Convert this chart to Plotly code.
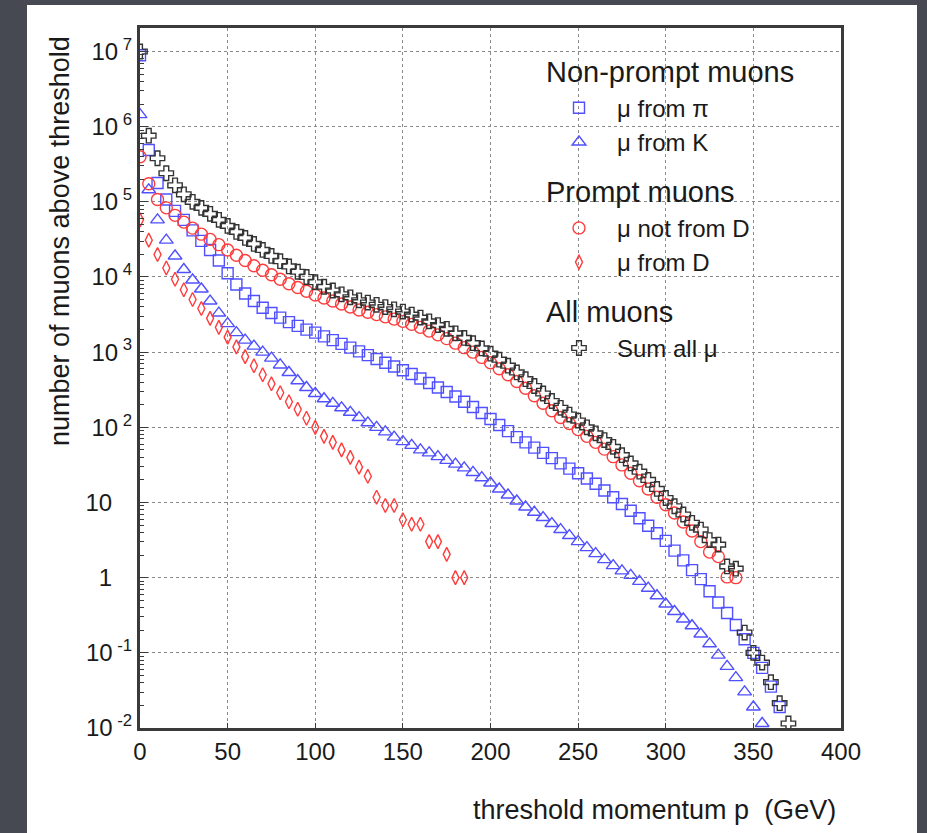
import plotly.graph_objects as go

# ---------------- data (log10 of counts) ----------------
x_pi = list(range(0, 370, 5))
log10_pi = [6.95, 5.69, 5.25, 5.03, 4.88, 4.76, 4.62, 4.48, 4.36, 4.22,
            4.05, 3.90, 3.78, 3.68, 3.59, 3.52, 3.46, 3.40, 3.35, 3.30,
            3.26, 3.21, 3.16, 3.11, 3.06, 3.01, 2.96, 2.91, 2.86, 2.81,
            2.76, 2.71, 2.65, 2.59, 2.53, 2.47, 2.41, 2.34, 2.27, 2.19,
            2.11, 2.03, 1.95, 1.87, 1.80, 1.73, 1.66, 1.59, 1.52, 1.45,
            1.39, 1.32, 1.25, 1.16, 1.07, 0.98, 0.89, 0.79, 0.69, 0.59,
            0.49, 0.36, 0.23, 0.10, -0.02, -0.18, -0.33, -0.47, -0.63, -0.82,
            -1.00, -1.20, -1.45, -1.72]

x_K = list(range(0, 360, 5))
log10_K = [6.16, 5.16, 4.76, 4.49, 4.28, 4.10, 3.96, 3.84, 3.68, 3.52,
           3.38, 3.26, 3.16, 3.08, 3.00, 2.92, 2.83, 2.73, 2.62, 2.53,
           2.45, 2.38, 2.32, 2.26, 2.20, 2.13, 2.06, 2.00, 1.94, 1.87,
           1.81, 1.76, 1.70, 1.66, 1.61, 1.56, 1.51, 1.46, 1.40, 1.33,
           1.26, 1.18, 1.10, 1.02, 0.94, 0.87, 0.80, 0.72, 0.64, 0.56,
           0.48, 0.40, 0.32, 0.24, 0.16, 0.09, 0.03, -0.05, -0.14, -0.24,
           -0.35, -0.45, -0.55, -0.64, -0.75, -0.88, -1.03, -1.18, -1.33, -1.52,
           -1.72, -1.94]

x_notD = list(range(0, 345, 5))
log10_notD = [5.60, 5.24, 5.03, 4.92, 4.82, 4.73, 4.65, 4.57, 4.50, 4.43,
              4.36, 4.29, 4.22, 4.15, 4.09, 4.03, 3.97, 3.91, 3.86, 3.81,
              3.76, 3.72, 3.68, 3.64, 3.60, 3.56, 3.53, 3.50, 3.47, 3.44,
              3.41, 3.37, 3.33, 3.28, 3.23, 3.18, 3.12, 3.06, 3.00, 2.93,
              2.86, 2.78, 2.70, 2.61, 2.52, 2.42, 2.32, 2.22, 2.13, 2.05,
              1.97, 1.88, 1.80, 1.71, 1.61, 1.50, 1.39, 1.29, 1.18, 1.07,
              0.97, 0.86, 0.74, 0.62, 0.48, 0.34, 0.28, 0.01, 0.00]

x_D = list(range(0, 190, 5))
log10_D = [4.76, 4.49, 4.30, 4.12, 3.97, 3.83, 3.70, 3.58, 3.45, 3.33,
           3.20, 3.07, 2.94, 2.82, 2.70, 2.58, 2.46, 2.34, 2.24, 2.12,
           2.00, 1.88, 1.80, 1.70, 1.60, 1.47, 1.35, 1.07, 0.96, 0.96,
           0.77, 0.71, 0.71, 0.48, 0.48, 0.31, 0.00, 0.00]

x_sum = list(range(0, 375, 5))
log10_sum = [7.00, 5.88, 5.58, 5.38, 5.22, 5.10, 5.00, 4.92, 4.84, 4.76,
             4.68, 4.60, 4.52, 4.44, 4.36, 4.28, 4.21, 4.14, 4.07, 4.00,
             3.93, 3.87, 3.82, 3.77, 3.73, 3.69, 3.66, 3.63, 3.60, 3.57,
             3.54, 3.50, 3.46, 3.41, 3.36, 3.31, 3.25, 3.19, 3.12, 3.05,
             2.98, 2.90, 2.82, 2.73, 2.64, 2.55, 2.45, 2.35, 2.26, 2.17,
             2.09, 2.00, 1.92, 1.83, 1.74, 1.63, 1.52, 1.41, 1.30, 1.18,
             1.06, 0.95, 0.84, 0.73, 0.64, 0.50, 0.44, 0.15, 0.12, -0.73,
             -1.00, -1.13, -1.39, -1.67, -1.94]

y_exponents = [-2, -1, 0, 1, 2, 3, 4, 5, 6, 7]
x_ticks = [0, 50, 100, 150, 200, 250, 300, 350, 400]

# ---------------- styling ----------------
FONT = "Liberation Sans, Arial, Helvetica, sans-serif"
BLUE = "#5050ff"
RED = "#ff3c3c"
BLACK = "#333333"

def counts(logs):
    return [10 ** v for v in logs]

series = [
    dict(x=x_K, y=log10_K, name="μ from K", symbol="triangle-up-open", color=BLUE, size=12,
         group="np", title="Non-prompt muons", rank=2),
    dict(x=x_pi, y=log10_pi, name="μ from π", symbol="square-open", color=BLUE, size=11,
         group="np", title="Non-prompt muons", rank=1),
    dict(x=x_D, y=log10_D, name="μ from D", symbol="diamond-tall-open", color=RED, size=10,
         group="p", title="Prompt muons", rank=4),
    dict(x=x_notD, y=log10_notD, name="μ not from D", symbol="circle-open", color=RED, size=12,
         group="p", title="Prompt muons", rank=3),
    dict(x=x_sum, y=log10_sum, name="Sum all μ", symbol="cross-open", color=BLACK, size=12,
         group="all", title="All muons", rank=5),
]

fig = go.Figure()
for s in series:
    fig.add_trace(go.Scatter(
        x=s["x"], y=counts(s["y"]), mode="markers", name=s["name"],
        marker=dict(symbol=s["symbol"], size=s["size"], color=s["color"],
                    line=dict(width=1.4, color=s["color"])),
        legendgroup=s["group"], legendrank=s["rank"],
        legendgrouptitle=dict(text=s["title"], font=dict(size=29, color="#1a1a1a", family=FONT)),
        cliponaxis=True,
    ))

# tick labels for the log axis
def ylabel(e):
    if e == 0:
        return "1&nbsp;&nbsp;&nbsp;"
    if e == 1:
        return "10&nbsp;&nbsp;&nbsp;"
    return "10<sup>&nbsp;%d</sup>" % e

minor_vals = [m * 10 ** e for e in range(-2, 8) for m in range(2, 10) if m * 10 ** e < 2.1e7]

L, R, T, B = 140, 86, 28, 105
W, H = 927, 833
pw, ph = W - L - R, H - T - B

fig.update_layout(
    width=W, height=H,
    margin=dict(l=L, r=R, t=T, b=B),
    paper_bgcolor="#464952",
    plot_bgcolor="white",
    font=dict(family=FONT, color="#1a1a1a"),
    showlegend=True,
    legend=dict(
        x=(541 - L) / pw, xanchor="left",
        y=(H - B - 45) / ph, yanchor="top",
        bgcolor="rgba(0,0,0,0)", borderwidth=0,
        font=dict(size=24, family=FONT, color="#1a1a1a"),
        traceorder="grouped", tracegroupgap=11, itemwidth=66,
    ),
    shapes=[dict(type="rect", xref="paper", yref="paper",
                 x0=(27 - L) / pw, x1=(917 - L) / pw,
                 y0=(H - B - 840) / ph, y1=(H - B - 5) / ph,
                 fillcolor="white", line=dict(width=0), layer="below")],
    annotations=[
        dict(text="number of muons above threshold", xref="paper", yref="paper",
             x=(60 - L) / pw, y=(H - B - 241) / ph, textangle=-90, showarrow=False,
             xanchor="center", yanchor="middle", font=dict(size=27, family=FONT, color="#1a1a1a")),
        dict(text="threshold momentum p&nbsp;&nbsp;(GeV)", xref="paper", yref="paper",
             x=(838 - L) / pw, y=(H - B - 810) / ph, showarrow=False,
             xanchor="right", yanchor="middle", font=dict(size=27, family=FONT, color="#1a1a1a")),
    ],
)

fig.update_xaxes(
    range=[0, 400], tickmode="array", tickvals=x_ticks, ticktext=[str(v) for v in x_ticks],
    showline=True, linecolor="#3a3a3a", linewidth=3, mirror=True,
    ticks="inside", ticklen=5, tickcolor="#3a3a3a",
    showgrid=True, gridcolor="#8a8a8a", griddash="dot", gridwidth=1,
    tickfont=dict(size=24, family=FONT, color="#1a1a1a"),
    zeroline=False,
)
fig.update_yaxes(
    type="log", range=[-2, 7.3125],
    tickmode="array", tickvals=[10 ** e for e in y_exponents],
    ticktext=[ylabel(e) for e in y_exponents],
    showline=True, linecolor="#3a3a3a", linewidth=3, mirror=True,
    ticks="inside", ticklen=8, tickcolor="#3a3a3a",
    showgrid=True, gridcolor="#8a8a8a", griddash="dot", gridwidth=1,
    tickfont=dict(size=24, family=FONT, color="#1a1a1a"),
    minor=dict(tickmode="array", tickvals=minor_vals, ticks="inside", ticklen=4,
               tickcolor="#3a3a3a", showgrid=False),
    zeroline=False,
)

fig.write_html("out.html")
